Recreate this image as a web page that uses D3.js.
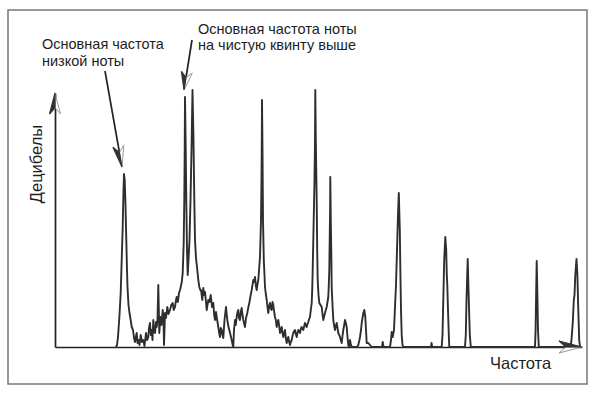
<!DOCTYPE html>
<html>
<head>
<meta charset="utf-8">
<script src="https://cdnjs.cloudflare.com/ajax/libs/d3/7.8.5/d3.min.js"></script>
<style>
  html, body { margin: 0; padding: 0; background: #fff; }
  svg { display: block; }
  text { font-family: "Liberation Sans", Arial, sans-serif; fill: #1e1e1e; }
</style>
</head>
<body>
<svg id="chart" width="600" height="397"></svg>
<script>
// spectrum: [frequency bin, amplitude]
const spectrum = [
  [61,0],[62,2],[63,10],[64.5,32],[65.7,54],[67,97],[67.7,120],[68.5,157],[69,173],[69.7,167],
  [70.5,142],[71,120],[72,77],[72.5,60],[73.5,42],[74.5,34],[76,25],[76.7,20],[78,17],[79,9],
  [80,5],[81,11],[81.7,14],[82.5,4],[83.3,7],[84.5,2],[85.7,12],[87,5],[88.3,7],[89.5,1],
  [91,14],[92,7],[93.3,10],[94,19],[95,24],[95.8,12],[96.7,17],[97.5,7],[98.3,27],[99.2,15],
  [100,14],[101,25],[101.7,20],[102.5,27],[103.3,62],[104.3,14],[105,25],[105.7,30],[106.5,22],[107.7,37],
  [108.5,27],[109,2],[110,34],[111,29],[112.3,40],[113.5,33],[115,37],[116.3,42],[117.7,44],[118.8,37],
  [120,40],[121,47],[121.7,50],[122.8,45],[124,54],[125,57],[125.7,60],[126.8,65],[127.7,74],[128.3,92],
  [128.7,104],[129.3,147],[129.7,197],[130,250],[130.6,207],[131.3,147],[132,97],[132.7,72],[133.5,87],[134.5,107],
  [135.5,147],[136.5,197],[137.5,257],[138.5,207],[139.3,147],[140,107],[141,89],[142.3,77],[143.3,67],[144.3,60],
  [145.3,57],[146,57],[147.3,47],[148.3,59],[149.2,52],[150,55],[151,45],[151.7,37],[152.5,42],[153.3,47],
  [154.5,45],[155.7,52],[156.3,47],[157,40],[158.3,44],[159.2,32],[160,27],[161,35],[161.7,30],[162.5,25],
  [163.3,20],[164.2,14],[165,10],[165.8,19],[166.7,17],[167.5,12],[168.3,9],[169.5,27],[171,40],[171.8,32],
  [172.3,27],[173.3,21],[174.3,17],[175.5,12],[176.7,7],[177.5,3],[178.3,0],[179,17],[180,27],[180.8,22],
  [181.7,30],[182.5,35],[183.3,37],[184,29],[185,27],[185.8,35],[186.7,39],[187.5,32],[188.3,27],[189.2,23],
  [190,20],[191,29],[192.3,34],[193.2,39],[194.3,44],[195.5,51],[196.7,57],[197.5,62],[198.3,67],[199.2,65],
  [200,70],[200.8,62],[201.7,57],[202.5,63],[203.3,67],[204.2,79],[205,90],[205.6,112],[206,127],[206.5,167],
  [206.8,207],[207,247],[207.5,197],[208,127],[208.8,87],[209.5,72],[210,60],[210.8,53],[211.7,47],[212.5,40],
  [213.3,34],[214.2,41],[215,44],[215.8,39],[216.7,37],[217.5,45],[218.3,42],[219.2,35],[220,30],[220.8,27],
  [221.7,20],[222.5,25],[223.3,27],[224.2,21],[225,14],[225.8,17],[226.7,20],[227.5,14],[228.3,10],[229.2,14],
  [230,17],[230.8,9],[231.7,4],[232.5,7],[233.3,10],[234.2,5],[235,2],[235.8,5],[236.7,7],[237.5,11],
  [238.3,14],[239.2,16],[240,17],[240.8,13],[241.7,10],[242.5,14],[243.3,17],[244.2,15],[245,14],[245.8,18],
  [246.7,20],[247.5,18],[248.3,17],[249.2,21],[250,24],[250.8,22],[251.7,20],[252.5,23],[253.3,25],[254.2,28],
  [255,30],[255.8,37],[256.7,44],[257.2,57],[257.7,77],[258.2,102],[258.7,127],[259.5,167],[260,207],[260.3,257],
  [260.8,207],[261.7,147],[262.2,97],[262.7,67],[263.5,52],[264.3,44],[265.5,42],[266.7,40],[267.5,33],[268.3,27],
  [269.2,31],[270,34],[270.8,37],[271.7,40],[272.5,45],[273.3,50],[273.8,62],[274.3,77],[274.7,107],[275.1,137],
  [275.3,170],[275.8,127],[276.4,87],[276.7,60],[277.5,42],[278.3,27],[279.2,21],[280,17],[280.8,21],[281.7,24],
  [282.5,19],[283.3,14],[284.2,12],[285,10],[285.8,7],[286.7,4],[287.5,11],[288.3,17],[289.2,22],[290,27],
  [290.8,24],[291.7,20],[292.5,10],[293.3,2],[294.2,0],[295,7],[295.8,3],[296.7,0],[302,0],[303.3,2],
  [304.2,6],[305,10],[306,17],[306.7,24],[307.5,29],[308.3,34],[309.3,37],[310.3,30],[311,17],[311.7,4],
  [313.3,4],[315,2],[316.7,0],[327,0],[327.7,5],[328.5,0],[335,0],[336,7],[336.7,15],[337.7,10],
  [339,17],[340,40],[341,62],[342,97],[343,132],[343.8,154],[344.8,117],[345.5,67],[346,37],[346.7,12],
  [347.5,2],[348.3,0],[376,0],[376.5,4],[377.2,0],[386.7,0],[387.5,12],[388.3,47],[389.2,87],[390.3,110],
  [391.2,97],[391.8,72],[392.3,62],[393,37],[393.8,12],[394.3,0],[410,0],[410.8,12],[411.5,47],[412.7,88],
  [413.8,47],[414.8,12],[415.8,0],[480,0],[480.6,17],[481.2,57],[481.7,86],[482.3,57],[483,17],
  [483.8,0],[515.5,0],[516.5,7],[517.8,25],[518.8,47],[519.5,52],[520.3,72],[521.5,88],[522.4,72],[523.3,37],
  [524.2,7],[525,0]
];

const xLabel = "Частота";
const yLabel = "Децибелы";
const lowNoteLabel = ["Основная частота", "низкой ноты"];
const fifthLabel = ["Основная частота ноты", "на чистую квинту выше"];

const svg = d3.select("#chart");

// frame
svg.append("rect")
  .attr("x", 8).attr("y", 10)
  .attr("width", 579).attr("height", 374)
  .attr("fill", "none")
  .attr("stroke", "#777")
  .attr("stroke-width", 1.5);

const x = d3.scaleLinear().domain([0, 527]).range([55, 582]);
const y = d3.scaleLinear().domain([0, 254]).range([347, 93]);

// axes without ticks, just the lines
svg.append("g")
  .attr("transform", `translate(0,${y(0)})`)
  .call(d3.axisBottom(x).tickValues([]).tickSizeOuter(0))
  .call(g => g.select(".domain").attr("stroke", "#222").attr("stroke-width", 1.7));

svg.append("g")
  .attr("transform", `translate(${x(0)},0)`)
  .call(d3.axisLeft(y).tickValues([]).tickSizeOuter(0))
  .call(g => g.select(".domain").attr("stroke", "#222").attr("stroke-width", 1.7));

// spectrum
const line = d3.line()
  .x(d => x(d[0]))
  .y(d => y(d[1]));

svg.append("path")
  .datum(spectrum)
  .attr("fill", "none")
  .attr("stroke", "#2e2e2e")
  .attr("stroke-width", 1.9)
  .attr("stroke-linejoin", "round")
  .attr("d", line);

// half-dark / half-open arrowhead like in the drawing
function arrowHead(tip, dir, len, half) {
  const [dx, dy] = dir;
  const n = Math.hypot(dx, dy), ux = dx / n, uy = dy / n;
  const px = -uy, py = ux; // perpendicular
  const bx = tip[0] - ux * len, by = tip[1] - uy * len;
  const notch = [tip[0] - ux * len * 0.7, tip[1] - uy * len * 0.7];
  const left = [bx - px * half, by - py * half];
  const right = [bx + px * half, by + py * half];
  const a = [left, right].sort((p, q) => p[0] - q[0]);
  svg.append("path")
    .attr("d", `M${tip}L${a[1]}L${notch}Z`)
    .attr("fill", "#fff").attr("stroke", "#999").attr("stroke-width", 1);
  svg.append("path")
    .attr("d", `M${tip}L${a[0]}L${notch}Z`)
    .attr("fill", "#333").attr("stroke", "#333").attr("stroke-width", 1.2);
}

arrowHead([x(0), 93], [0, -1], 21, 5.5);
// x-axis head: dark part above
(function () {
  const tip = [x(527), y(0)];
  svg.append("path")
    .attr("d", `M${tip}L${[tip[0] - 23, tip[1] + 6]}L${[tip[0] - 16, tip[1]]}Z`)
    .attr("fill", "#fff").attr("stroke", "#999").attr("stroke-width", 1);
  svg.append("path")
    .attr("d", `M${tip}L${[tip[0] - 23, tip[1] - 6]}L${[tip[0] - 16, tip[1]]}Z`)
    .attr("fill", "#333").attr("stroke", "#333").attr("stroke-width", 1.2);
})();

// annotation arrows
function pointer(from, to, len) {
  const d = [to[0] - from[0], to[1] - from[1]];
  svg.append("line")
    .attr("x1", from[0]).attr("y1", from[1])
    .attr("x2", to[0] - d[0] * 0.1).attr("y2", to[1] - d[1] * 0.1)
    .attr("stroke", "#222").attr("stroke-width", 1.7);
  arrowHead(to, d, len, 5.5);
}
pointer([105, 71], [122, 167], 21);
pointer([192, 40], [184, 90], 18);

// texts
function block(lines, x0, y0, lh) {
  svg.append("text")
    .attr("x", x0).attr("y", y0)
    .attr("font-size", 14.5)
    .selectAll("tspan")
    .data(lines)
    .join("tspan")
    .attr("x", x0)
    .attr("dy", (d, i) => i ? lh : 0)
    .text(d => d);
}
block(lowNoteLabel, 42, 49, 17);
block(fifthLabel, 198, 34, 16);

svg.append("text")
  .attr("x", 490).attr("y", 369)
  .attr("font-size", 16.5)
  .text(xLabel);

svg.append("text")
  .attr("transform", "translate(41.5,164) rotate(-90)")
  .attr("text-anchor", "middle")
  .attr("font-size", 16.5)
  .text(yLabel);
</script>
</body>
</html>
